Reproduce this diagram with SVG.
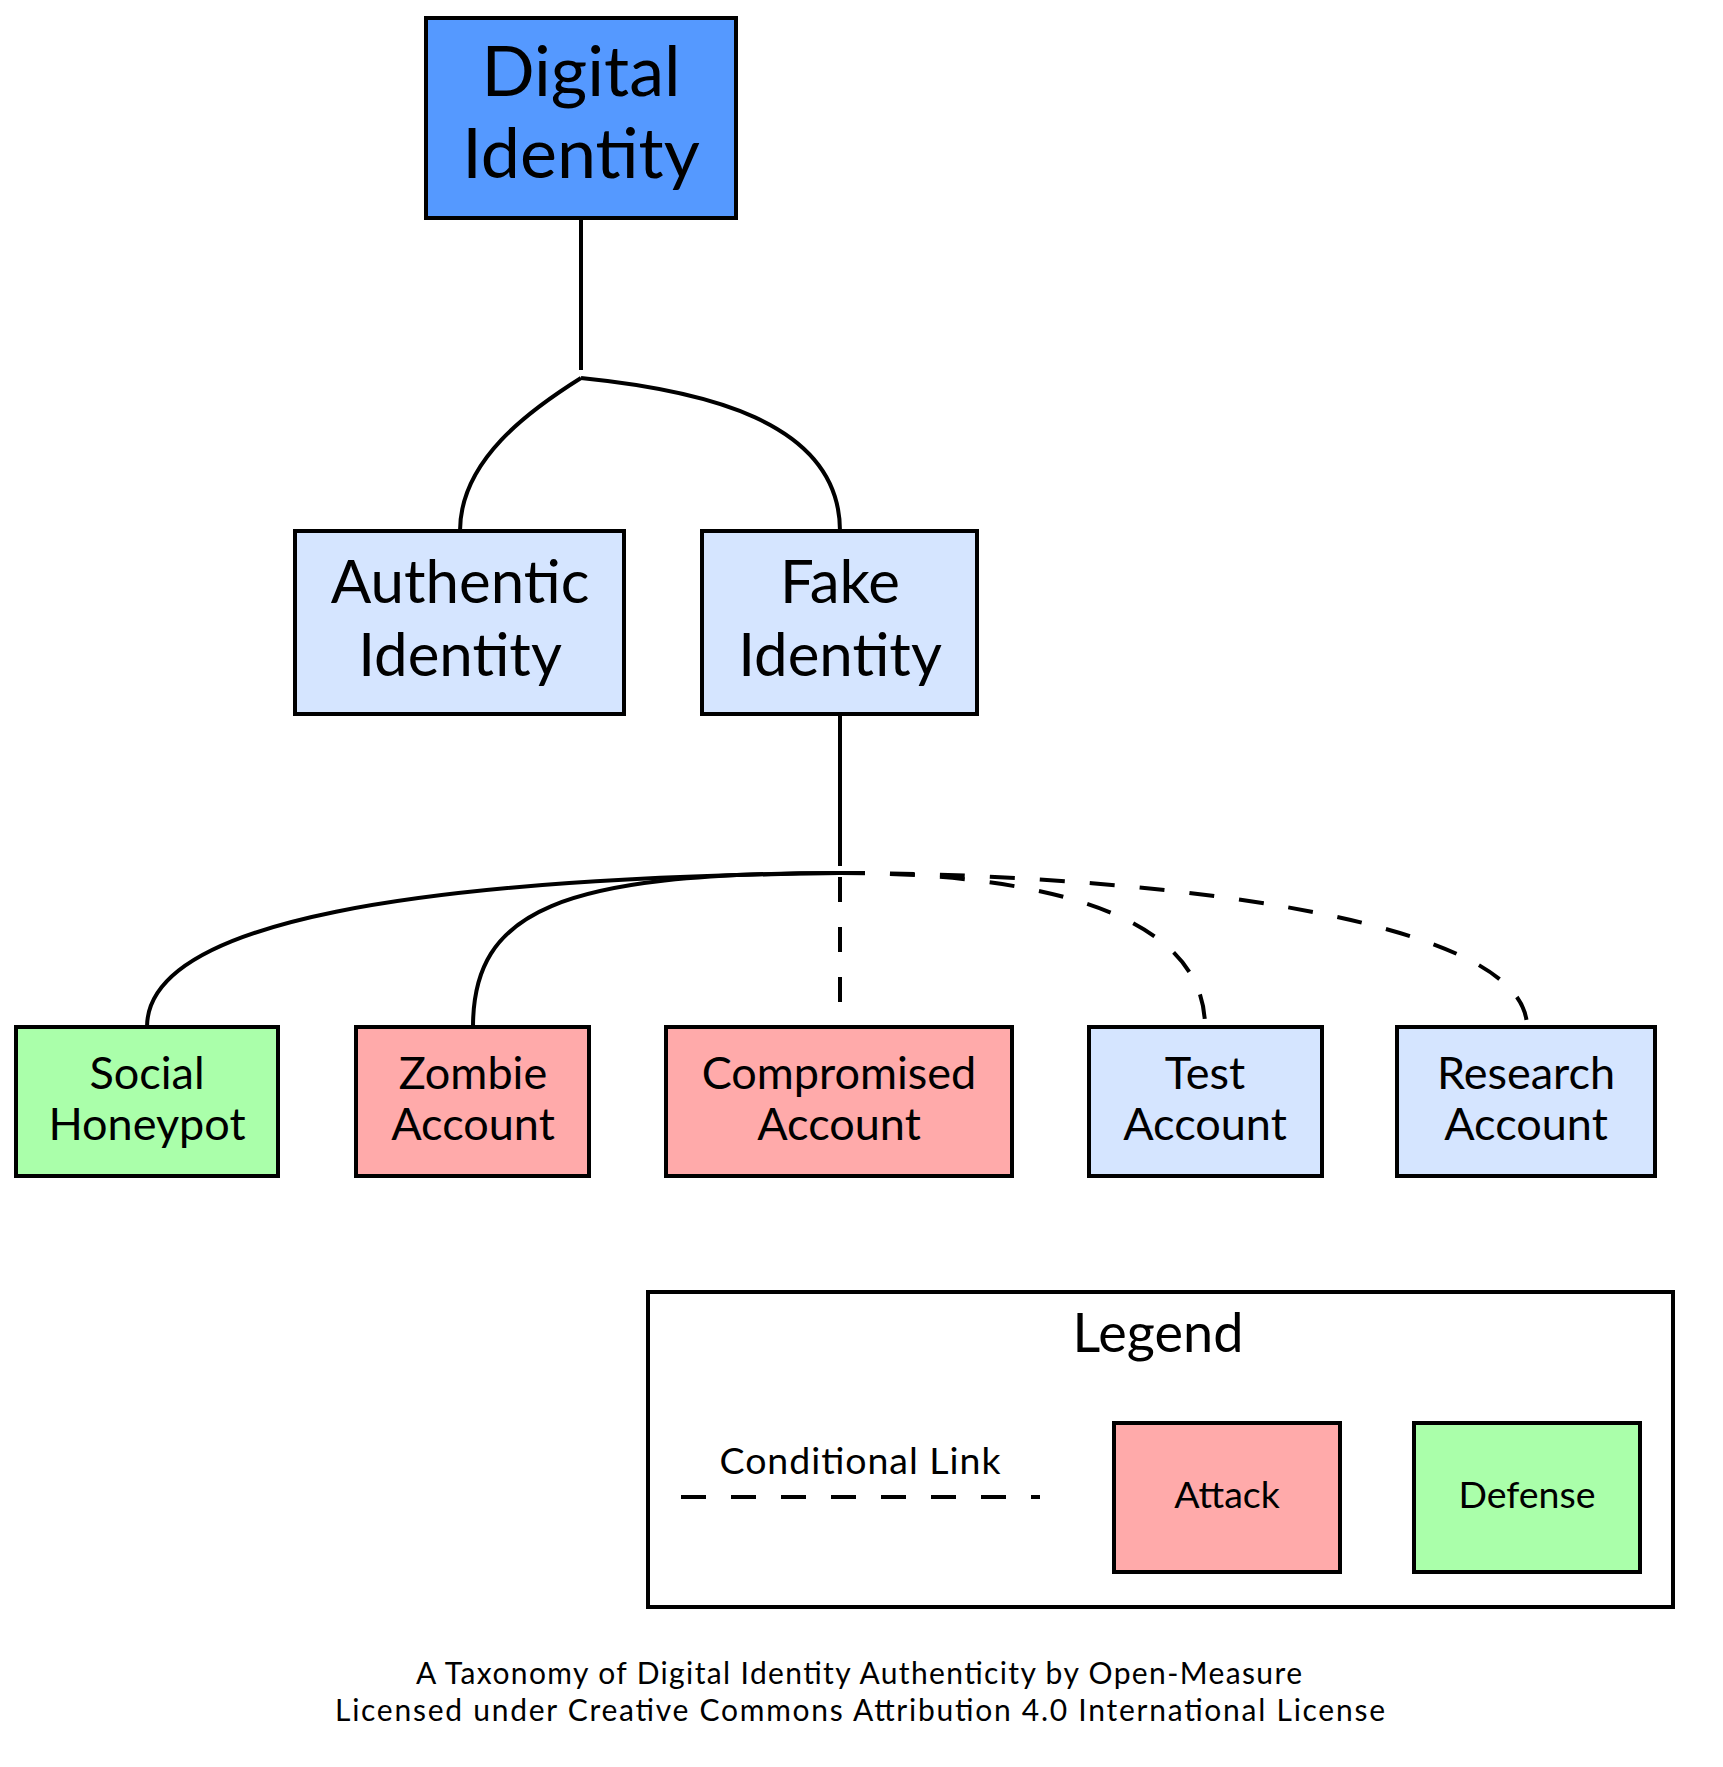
<svg xmlns="http://www.w3.org/2000/svg" width="1723" height="1767" viewBox="0 0 1723 1767">
  <style>
    .box { stroke: #000; stroke-width: 4; }
    .root { fill: #5599ff; }
    .plain { fill: #d5e5ff; }
    .attack { fill: #ffaaaa; }
    .defense { fill: #aaffaa; }
    .edge { fill: none; stroke: #000; stroke-width: 4; }
    .cond { stroke-dasharray: 25 25; }
    text { font-family: Lato, "Open Sans", "Liberation Sans", sans-serif; fill: #000; text-anchor: middle; }
    .t1 { font-size: 70px; }
    .t2 { font-size: 60px; }
    .t3 { font-size: 45px; }
    .lg { font-size: 54px; }
    .ls { font-size: 37.5px; }
    .ft { font-size: 30px; }
  </style>

  <!-- connectors -->
  <g id="connectors">
    <path class="edge" d="M581,219 V370"/>
    <path class="edge" d="M581,378 C530,410 460,460 460,531"/>
    <path class="edge" d="M581,378 C700,390 840,420 840,531"/>
    <path class="edge" d="M840,714 V866"/>
    <path class="edge" d="M840,873 C420,878 147,920 147,1027"/>
    <path class="edge" d="M840,873 C560,873 473,910 473,1027"/>
    <path class="edge cond" d="M840,877 V1027"/>
    <path class="edge cond" d="M840,873 C1000,873 1205,900 1205,1027"/>
    <path class="edge cond" d="M840,873 C1100,873 1527,910 1527,1027"/>
  </g>

  <!-- nodes -->
  <g id="digital-identity">
    <rect class="box root" x="426" y="18" width="310" height="200"/>
    <text class="t1" x="581" y="96">Digital</text>
    <text class="t1" x="581" y="178">Identity</text>
  </g>
  <g id="authentic-identity">
    <rect class="box plain" x="295" y="531" width="329" height="183"/>
    <text class="t2" x="460" y="603">Authentic</text>
    <text class="t2" x="460" y="676">Identity</text>
  </g>
  <g id="fake-identity">
    <rect class="box plain" x="702" y="531" width="275" height="183"/>
    <text class="t2" x="840" y="603">Fake</text>
    <text class="t2" x="840" y="676">Identity</text>
  </g>
  <g id="social-honeypot">
    <rect class="box defense" x="16" y="1027" width="262" height="149"/>
    <text class="t3" x="147" y="1089">Social</text>
    <text class="t3" x="147" y="1140">Honeypot</text>
  </g>
  <g id="zombie-account">
    <rect class="box attack" x="356" y="1027" width="233" height="149"/>
    <text class="t3" x="473" y="1089">Zombie</text>
    <text class="t3" x="473" y="1140">Account</text>
  </g>
  <g id="compromised-account">
    <rect class="box attack" x="666" y="1027" width="346" height="149"/>
    <text class="t3" x="839" y="1089">Compromised</text>
    <text class="t3" x="839" y="1140">Account</text>
  </g>
  <g id="test-account">
    <rect class="box plain" x="1089" y="1027" width="233" height="149"/>
    <text class="t3" x="1205" y="1089">Test</text>
    <text class="t3" x="1205" y="1140">Account</text>
  </g>
  <g id="research-account">
    <rect class="box plain" x="1397" y="1027" width="258" height="149"/>
    <text class="t3" x="1526" y="1089">Research</text>
    <text class="t3" x="1526" y="1140">Account</text>
  </g>

  <!-- legend -->
  <g id="legend">
    <rect x="648" y="1292" width="1025" height="315" fill="#fff" stroke="#000" stroke-width="4"/>
    <text class="lg" x="1158" y="1352">Legend</text>
    <text class="ls" x="860" y="1474" textLength="281">Conditional Link</text>
    <path class="edge cond" d="M681,1497 H1040"/>
    <rect class="box attack" x="1114" y="1423" width="226" height="149"/>
    <text class="ls" x="1227" y="1508">Attack</text>
    <rect class="box defense" x="1414" y="1423" width="226" height="149"/>
    <text class="ls" x="1527" y="1508">Defense</text>
  </g>

  <!-- footer -->
  <g id="footer">
    <text class="ft" x="859" y="1684" textLength="886">A Taxonomy of Digital Identity Authenticity by Open-Measure</text>
    <text class="ft" x="860" y="1721" textLength="1050">Licensed under Creative Commons Attribution 4.0 International License</text>
  </g>
</svg>
